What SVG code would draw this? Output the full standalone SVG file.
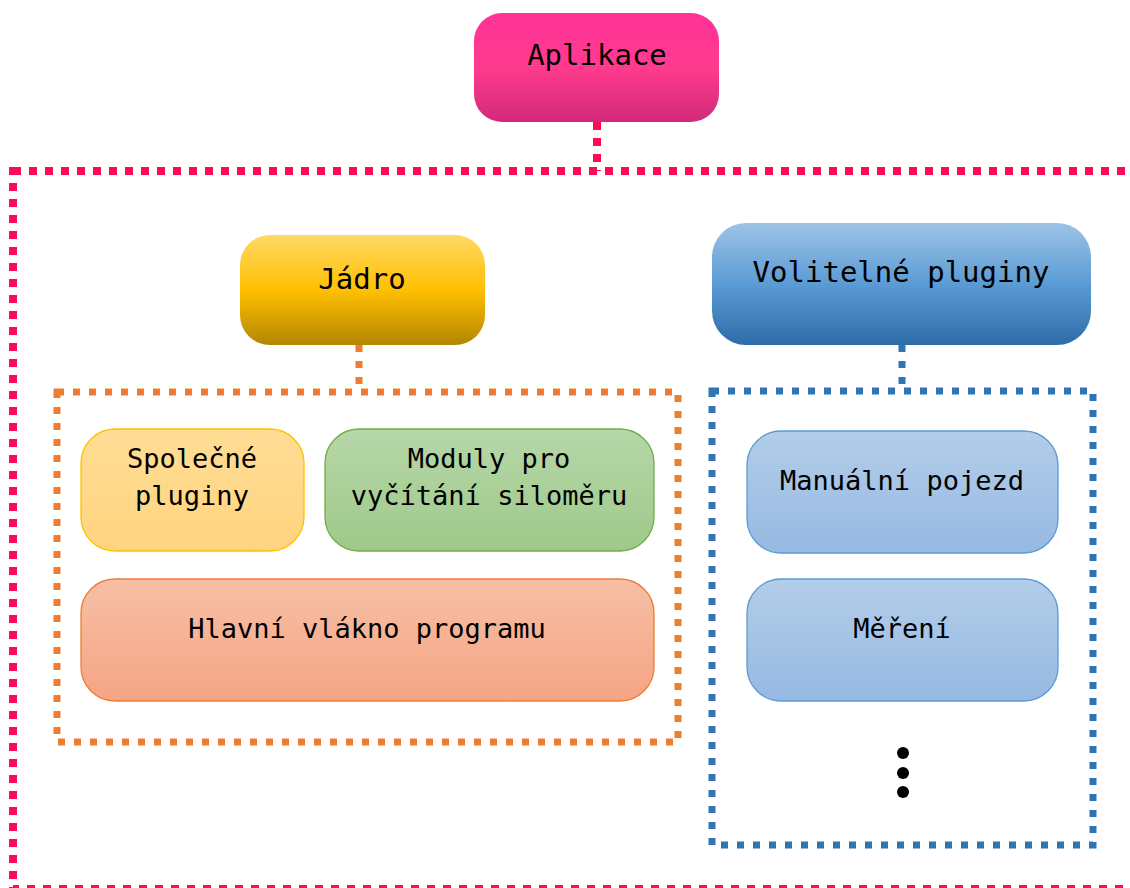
<svg xmlns="http://www.w3.org/2000/svg" width="1130" height="888" viewBox="0 0 1130 888">
  <defs>
    <linearGradient id="gPink" x1="0" y1="0" x2="0" y2="1">
      <stop offset="0" stop-color="#FF3399"/>
      <stop offset="0.5" stop-color="#FF3B8E"/>
      <stop offset="1" stop-color="#D2297A"/>
    </linearGradient>
    <linearGradient id="gGold" x1="0" y1="0" x2="0" y2="1">
      <stop offset="0" stop-color="#FFD966"/>
      <stop offset="0.5" stop-color="#FFC000"/>
      <stop offset="1" stop-color="#B38600"/>
    </linearGradient>
    <linearGradient id="gBlue" x1="0" y1="0" x2="0" y2="1">
      <stop offset="0" stop-color="#9DC3E6"/>
      <stop offset="0.5" stop-color="#5B9BD5"/>
      <stop offset="1" stop-color="#2E6CA8"/>
    </linearGradient>
    <linearGradient id="gLightGold" x1="0" y1="0" x2="0" y2="1">
      <stop offset="0" stop-color="#FFDD95"/>
      <stop offset="1" stop-color="#FFD47F"/>
    </linearGradient>
    <linearGradient id="gGreen" x1="0" y1="0" x2="0" y2="1">
      <stop offset="0" stop-color="#B6D7A8"/>
      <stop offset="1" stop-color="#9FC98A"/>
    </linearGradient>
    <linearGradient id="gSalmon" x1="0" y1="0" x2="0" y2="1">
      <stop offset="0" stop-color="#F7BFA5"/>
      <stop offset="1" stop-color="#F5A583"/>
    </linearGradient>
    <linearGradient id="gLightBlue" x1="0" y1="0" x2="0" y2="1">
      <stop offset="0" stop-color="#B3CDE9"/>
      <stop offset="1" stop-color="#96B9E2"/>
    </linearGradient>
  </defs>
  <style>
    text { font-family: "DejaVu Sans Mono", "Liberation Mono", monospace; fill: #000; text-anchor: middle; }
    .big { font-size: 29px; }
    .small { font-size: 27px; }
    .pink { fill: none; stroke: #FF0B55; stroke-width: 8; stroke-dasharray: 8 8; }
    .orange { fill: none; stroke: #ED7D31; stroke-width: 7; stroke-dasharray: 7 9; }
    .blue { fill: none; stroke: #2E75B6; stroke-width: 7; stroke-dasharray: 7 9; }
  </style>

  <rect width="1130" height="888" fill="#FFFFFF"/>

  <!-- group frames and the links between headers and frames -->
  <g id="connectors">
    <rect class="pink" x="13" y="171" width="1140" height="718"/>
    <line class="pink" x1="597" y1="122" x2="597" y2="171"/>
    <rect class="orange" x="57" y="392" width="621" height="350"/>
    <line class="orange" x1="359" y1="345" x2="359" y2="392"/>
    <rect class="blue" x="712" y="391" width="381" height="454"/>
    <line class="blue" x1="902" y1="345" x2="902" y2="391"/>
  </g>

  <g id="aplikace">
    <rect x="474" y="13" width="245" height="109" rx="28" fill="url(#gPink)"/>
    <text class="big" x="597" y="65">Aplikace</text>
  </g>

  <g id="jadro">
    <rect x="240" y="235" width="245" height="110" rx="30" fill="url(#gGold)"/>
    <text class="big" x="362" y="289">Jádro</text>
  </g>

  <g id="volitelne-pluginy">
    <rect x="712" y="223" width="379" height="122" rx="34" fill="url(#gBlue)"/>
    <text class="big" x="901" y="282">Volitelné pluginy</text>
  </g>

  <g id="spolecne-pluginy">
    <rect x="81" y="429" width="223" height="122" rx="34" fill="url(#gLightGold)" stroke="#FFC000" stroke-width="1.3"/>
    <text class="small" x="192" y="468">Společné</text>
    <text class="small" x="192" y="505">pluginy</text>
  </g>

  <g id="moduly-silomeru">
    <rect x="325" y="429" width="329" height="122" rx="34" fill="url(#gGreen)" stroke="#70AD47" stroke-width="1.3"/>
    <text class="small" x="489" y="468">Moduly pro</text>
    <text class="small" x="489" y="505">vyčítání siloměru</text>
  </g>

  <g id="hlavni-vlakno">
    <rect x="81" y="579" width="573" height="122" rx="34" fill="url(#gSalmon)" stroke="#ED7D31" stroke-width="1.3"/>
    <text class="small" x="367" y="638">Hlavní vlákno programu</text>
  </g>

  <g id="manualni-pojezd">
    <rect x="747" y="431" width="311" height="122" rx="34" fill="url(#gLightBlue)" stroke="#5B9BD5" stroke-width="1.3"/>
    <text class="small" x="902" y="490">Manuální pojezd</text>
  </g>

  <g id="mereni">
    <rect x="747" y="579" width="311" height="122" rx="34" fill="url(#gLightBlue)" stroke="#5B9BD5" stroke-width="1.3"/>
    <text class="small" x="902" y="638">Měření</text>
  </g>

  <g id="dalsi">
    <circle cx="903" cy="753" r="6"/>
    <circle cx="903" cy="773" r="6"/>
    <circle cx="903" cy="792" r="6"/>
  </g>
</svg>
